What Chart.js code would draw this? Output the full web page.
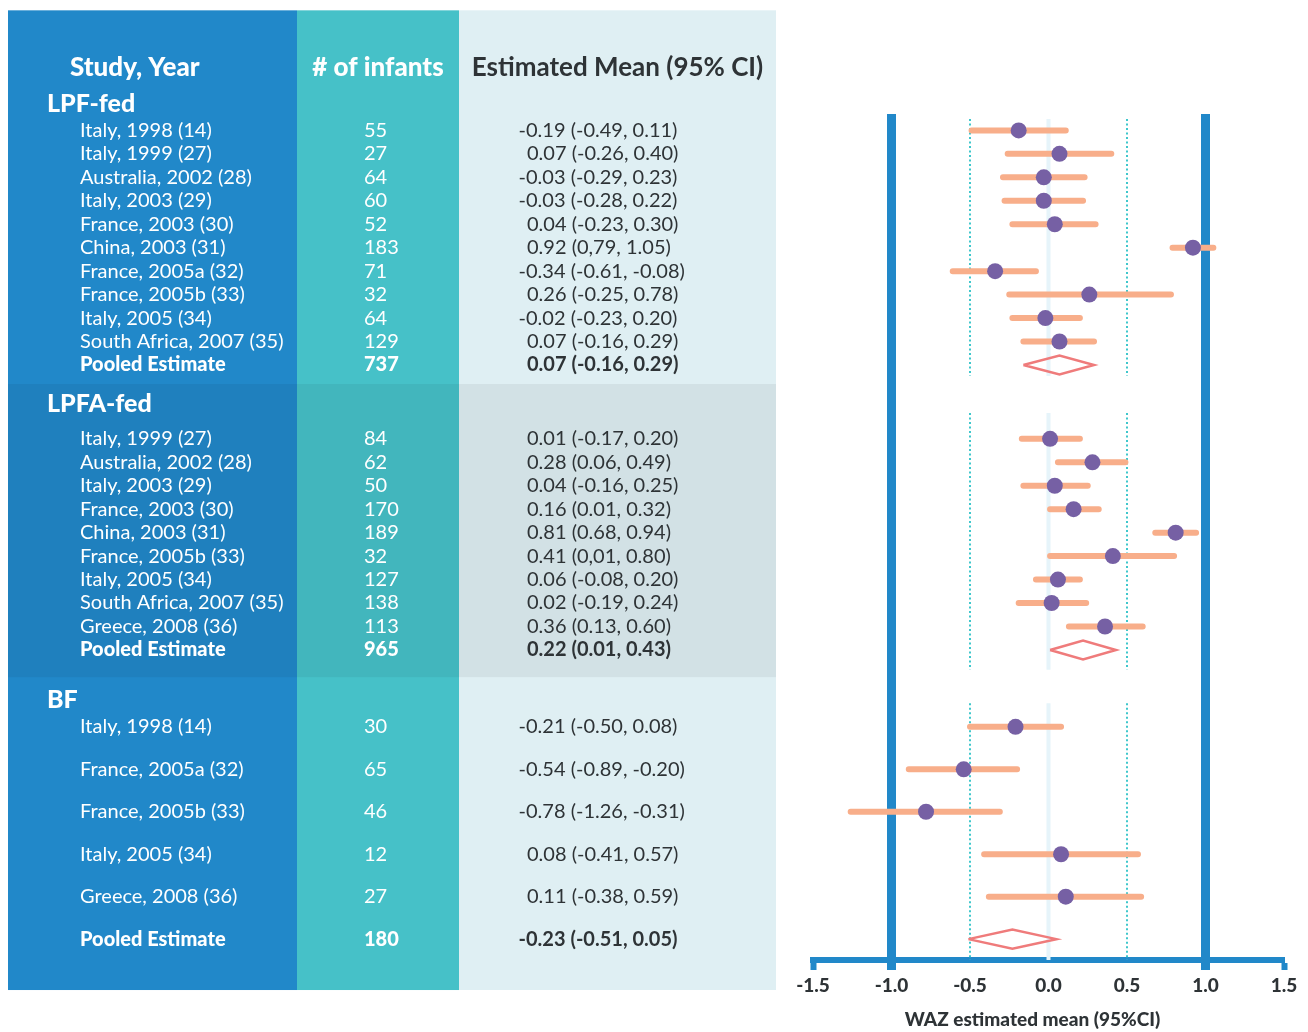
<!DOCTYPE html>
<html>
<head>
<meta charset="utf-8">
<script src="https://cdn.jsdelivr.net/npm/chart.js@4/dist/chart.umd.min.js"></script>
<style>
  html, body { margin: 0; padding: 0; background: #ffffff; }
  #wrap { width: 1308px; height: 1032px; position: relative; }
</style>
</head>
<body>
<div id="wrap"><canvas id="c" width="1308" height="1032"></canvas></div>
<script>
// ---------------- DATA ----------------
const groupNames = ['LPF-fed', 'LPFA-fed', 'BF'];
const columnHeaders = ['Study, Year', '# of infants', 'Estimated Mean (95% CI)'];
const pooledLabel = 'Pooled Estimate';
const axisTitle = 'WAZ estimated mean (95%CI)';

const lpfStudies = ['Italy, 1998 (14)', 'Italy, 1999 (27)', 'Australia, 2002 (28)', 'Italy, 2003 (29)', 'France, 2003 (30)', 'China, 2003 (31)', 'France, 2005a (32)', 'France, 2005b (33)', 'Italy, 2005 (34)', 'South Africa, 2007 (35)'];
const lpfInfants = [55, 27, 64, 60, 52, 183, 71, 32, 64, 129];
const lpfMean  = [-0.19, 0.07, -0.03, -0.03, 0.04, 0.92, -0.34, 0.26, -0.02, 0.07];
const lpfLower = [-0.49, -0.26, -0.29, -0.28, -0.23, 0.79, -0.61, -0.25, -0.23, -0.16];
const lpfUpper = [0.11, 0.40, 0.23, 0.22, 0.30, 1.05, -0.08, 0.78, 0.20, 0.29];
const lpfCiText = ['-0.19 (-0.49, 0.11)', '0.07 (-0.26, 0.40)', '-0.03 (-0.29, 0.23)', '-0.03 (-0.28, 0.22)', '0.04 (-0.23, 0.30)', '0.92 (0,79, 1.05)', '-0.34 (-0.61, -0.08)', '0.26 (-0.25, 0.78)', '-0.02 (-0.23, 0.20)', '0.07 (-0.16, 0.29)'];

const lpfaStudies = ['Italy, 1999 (27)', 'Australia, 2002 (28)', 'Italy, 2003 (29)', 'France, 2003 (30)', 'China, 2003 (31)', 'France, 2005b (33)', 'Italy, 2005 (34)', 'South Africa, 2007 (35)', 'Greece, 2008 (36)'];
const lpfaInfants = [84, 62, 50, 170, 189, 32, 127, 138, 113];
const lpfaMean  = [0.01, 0.28, 0.04, 0.16, 0.81, 0.41, 0.06, 0.02, 0.36];
const lpfaLower = [-0.17, 0.06, -0.16, 0.01, 0.68, 0.01, -0.08, -0.19, 0.13];
const lpfaUpper = [0.20, 0.49, 0.25, 0.32, 0.94, 0.80, 0.20, 0.24, 0.60];
const lpfaCiText = ['0.01 (-0.17, 0.20)', '0.28 (0.06, 0.49)', '0.04 (-0.16, 0.25)', '0.16 (0.01, 0.32)', '0.81 (0.68, 0.94)', '0.41 (0,01, 0.80)', '0.06 (-0.08, 0.20)', '0.02 (-0.19, 0.24)', '0.36 (0.13, 0.60)'];

const bfStudies = ['Italy, 1998 (14)', 'France, 2005a (32)', 'France, 2005b (33)', 'Italy, 2005 (34)', 'Greece, 2008 (36)'];
const bfInfants = [30, 65, 46, 12, 27];
const bfMean  = [-0.21, -0.54, -0.78, 0.08, 0.11];
const bfLower = [-0.50, -0.89, -1.26, -0.41, -0.38];
const bfUpper = [0.08, -0.20, -0.31, 0.57, 0.59];
const bfCiText = ['-0.21 (-0.50, 0.08)', '-0.54 (-0.89, -0.20)', '-0.78 (-1.26, -0.31)', '0.08 (-0.41, 0.57)', '0.11 (-0.38, 0.59)'];

const pooledInfants = [737, 965, 180];
const pooledMean  = [0.07, 0.22, -0.23];
const pooledLower = [-0.16, 0.01, -0.51];
const pooledUpper = [0.29, 0.43, 0.05];
const pooledCiText = ['0.07 (-0.16, 0.29)', '0.22 (0.01, 0.43)', '-0.23 (-0.51, 0.05)'];

const xTickValues = [-1.5, -1.0, -0.5, 0, 0.5, 1.0, 1.5];

// ---------------- LAYOUT (row units on the y scale) ----------------
const layout = {
  yMin: 0.3, yMax: 36.37,
  columnHeaderRow: -1.66,
  tableTop: -4.12, tableBottom: 37.65,
  sections: [
    { header: -0.12, first: 1.0,   step: 1.0,  guide: [0.51, 11.47], band: [-4.12, 11.81] },
    { header: 12.67, first: 14.15, step: 1.0,  guide: [13.05, 24.0], band: [11.81, 24.31] },
    { header: 25.29, first: 26.43, step: 1.81, guide: [25.42, 36.37], band: [24.31, 37.65] }
  ],
  diamondHalf: 0.405,
  cols: { c1: [8, 297], c2: [297, 459], c3: [459, 776] },
  headerX: 70, groupX: 47, studyX: 80, nX: 364, ciX: 527,
  titleShift: -16
};

const colors = {
  blue: '#2188c9', teal: '#46c1c8', light: '#dfeff3', bandShade: 'rgba(0,0,0,0.055)',
  dark: '#2e3336', white: '#ffffff',
  point: '#7660a4', ci: '#f8ae8a', diamond: '#ef7b7b',
  dotted: '#3fc7cc', zero: '#e6f4fa'
};

const groups = [
  { studies: lpfStudies, n: lpfInfants, mean: lpfMean, lower: lpfLower, upper: lpfUpper, ci: lpfCiText },
  { studies: lpfaStudies, n: lpfaInfants, mean: lpfaMean, lower: lpfaLower, upper: lpfaUpper, ci: lpfaCiText },
  { studies: bfStudies, n: bfInfants, mean: bfMean, lower: bfLower, upper: bfUpper, ci: bfCiText }
];

const rowY = (g, i) => layout.sections[g].first + i * layout.sections[g].step;

// ---------------- DATASETS ----------------
const ciSegments = [];
const pointData = [];
const diamondData = [];
groups.forEach((grp, g) => {
  grp.mean.forEach((m, i) => {
    const y = rowY(g, i);
    ciSegments.push({ x: grp.lower[i], y }, { x: grp.upper[i], y }, { x: null, y: null });
    pointData.push({ x: m, y });
  });
  const py = rowY(g, grp.mean.length);
  const h = layout.diamondHalf;
  diamondData.push(
    { x: pooledLower[g], y: py },
    { x: pooledMean[g], y: py - h },
    { x: pooledUpper[g], y: py },
    { x: pooledMean[g], y: py + h },
    { x: pooledLower[g], y: py },
    { x: null, y: null }
  );
});

// ---------------- PLUGIN: table + guides + title ----------------
const forestPlugin = {
  id: 'forest',
  beforeDraw(chart) {
    const { ctx, scales: { y } } = chart;
    const P = v => y.getPixelForValue(v);
    const top = P(layout.tableTop), bot = P(layout.tableBottom);
    const c = layout.cols;
    ctx.save();
    ctx.fillStyle = colors.blue;  ctx.fillRect(c.c1[0], top, c.c1[1] - c.c1[0], bot - top);
    ctx.fillStyle = colors.teal;  ctx.fillRect(c.c2[0], top, c.c2[1] - c.c2[0], bot - top);
    ctx.fillStyle = colors.light; ctx.fillRect(c.c3[0], top, c.c3[1] - c.c3[0], bot - top);
    const b = layout.sections[1].band;
    ctx.fillStyle = colors.bandShade;
    ctx.fillRect(c.c1[0], P(b[0]), c.c3[1] - c.c1[0], P(b[1]) - P(b[0]));

    ctx.textBaseline = 'middle';
    const hy = P(layout.columnHeaderRow);
    ctx.font = '900 26px Lato';
    ctx.fillStyle = colors.white;
    ctx.textAlign = 'left';
    ctx.fillText(columnHeaders[0], layout.headerX, hy);
    ctx.textAlign = 'center';
    ctx.fillText(columnHeaders[1], (c.c2[0] + c.c2[1]) / 2, hy);
    ctx.fillStyle = colors.dark;
    ctx.font = 'bold 26px Lato';
    ctx.fillText(columnHeaders[2], (c.c3[0] + c.c3[1]) / 2, hy);
    ctx.textAlign = 'left';

    const drawCi = (txt, yy, bold) => {
      ctx.font = (bold ? 'bold ' : '') + '20px Lato';
      ctx.fillStyle = colors.dark;
      let x = layout.ciX;
      if (txt.startsWith('-')) x -= ctx.measureText('-').width + 1;
      ctx.fillText(txt, x, yy);
    };

    groups.forEach((grp, g) => {
      const s = layout.sections[g];
      ctx.font = '900 25px Lato';
      ctx.fillStyle = colors.white;
      ctx.fillText(groupNames[g], layout.groupX, P(s.header));
      grp.studies.forEach((name, i) => {
        const yy = P(rowY(g, i));
        ctx.font = '20px Lato';
        ctx.fillStyle = colors.white;
        ctx.fillText(name, layout.studyX, yy);
        ctx.fillText(String(grp.n[i]), layout.nX, yy);
        drawCi(grp.ci[i], yy, false);
      });
      const py = P(rowY(g, grp.studies.length));
      ctx.font = '900 20px Lato';
      ctx.fillStyle = colors.white;
      ctx.fillText(pooledLabel, layout.studyX, py);
      ctx.fillText(String(pooledInfants[g]), layout.nX, py);
      drawCi(pooledCiText[g], py, true);
    });
    ctx.restore();
  },
  beforeDatasetsDraw(chart) {
    const { ctx, scales: { x, y } } = chart;
    ctx.save();
    layout.sections.forEach(s => {
      const y0 = y.getPixelForValue(s.guide[0]);
      const y1 = y.getPixelForValue(s.guide[1]);
      ctx.setLineDash([]);
      ctx.strokeStyle = colors.zero;
      ctx.lineWidth = 4;
      ctx.beginPath();
      const zx = x.getPixelForValue(0);
      ctx.moveTo(zx, y0); ctx.lineTo(zx, y1); ctx.stroke();
      ctx.strokeStyle = colors.dotted;
      ctx.lineWidth = 2;
      ctx.setLineDash([2, 2.5]);
      [-0.5, 0.5].forEach(v => {
        const px = x.getPixelForValue(v);
        ctx.beginPath(); ctx.moveTo(px, y0); ctx.lineTo(px, y1); ctx.stroke();
      });
    });
    ctx.restore();
  },
  afterDraw(chart) {
    const { ctx, chartArea } = chart;
    ctx.save();
    ctx.font = '900 19px Lato';
    ctx.fillStyle = colors.dark;
    ctx.textAlign = 'center';
    ctx.textBaseline = 'middle';
    ctx.fillText(axisTitle, (chartArea.left + chartArea.right) / 2 + layout.titleShift, chartArea.bottom + 60);
    ctx.restore();
  }
};

const isVal = (c, v) => c.tick && Math.abs(Math.abs(c.tick.value) - v) < 1e-9;

function build() {
  new Chart(document.getElementById('c'), {
    type: 'scatter',
    data: {
      datasets: [
        { label: 'Estimate', data: pointData, pointRadius: 8, pointBackgroundColor: colors.point, pointBorderWidth: 0, pointBorderColor: colors.point, showLine: false, order: 0 },
        { label: 'Pooled', data: diamondData, showLine: true, spanGaps: false, borderColor: colors.diamond, borderWidth: 2.5, pointRadius: 0, fill: false, tension: 0, borderJoinStyle: 'miter', order: 1 },
        { label: '95% CI', data: ciSegments, showLine: true, spanGaps: false, borderColor: colors.ci, borderWidth: 6, borderCapStyle: 'round', pointRadius: 0, fill: false, tension: 0, order: 2 }
      ]
    },
    options: {
      responsive: false,
      devicePixelRatio: 1,
      animation: false,
      events: [],
      layout: { padding: { left: 813, right: 24, top: 114, bottom: 0 } },
      plugins: { legend: { display: false }, tooltip: { enabled: false } },
      scales: {
        x: {
          type: 'linear', min: -1.5, max: 1.5,
          afterFit(s) { s.height = 72; },
          afterBuildTicks(s) { s.ticks = xTickValues.map(v => ({ value: v })); },
          ticks: {
            callback: v => Number(v).toFixed(1),
            font: { family: 'Lato', weight: 900, size: 19 },
            color: colors.dark, padding: 4, maxRotation: 0, autoSkip: false
          },
          grid: {
            drawOnChartArea: true, drawTicks: true, tickLength: 10,
            color: c => isVal(c, 1) ? colors.blue : 'rgba(0,0,0,0)',
            lineWidth: c => isVal(c, 1) ? 9 : 1,
            tickColor: c => (isVal(c, 1) || isVal(c, 1.5)) ? colors.blue : 'rgba(0,0,0,0)',
            tickWidth: c => isVal(c, 1) ? 9 : 6
          },
          border: { display: true, color: colors.blue, width: 6 }
        },
        y: { type: 'linear', display: false, reverse: true, min: layout.yMin, max: layout.yMax }
      }
    },
    plugins: [forestPlugin]
  });
}

Promise.all([
  document.fonts.load('20px Lato'),
  document.fonts.load('bold 20px Lato'),
  document.fonts.load('900 20px Lato')
]).then(build, build);
</script>
</body>
</html>
